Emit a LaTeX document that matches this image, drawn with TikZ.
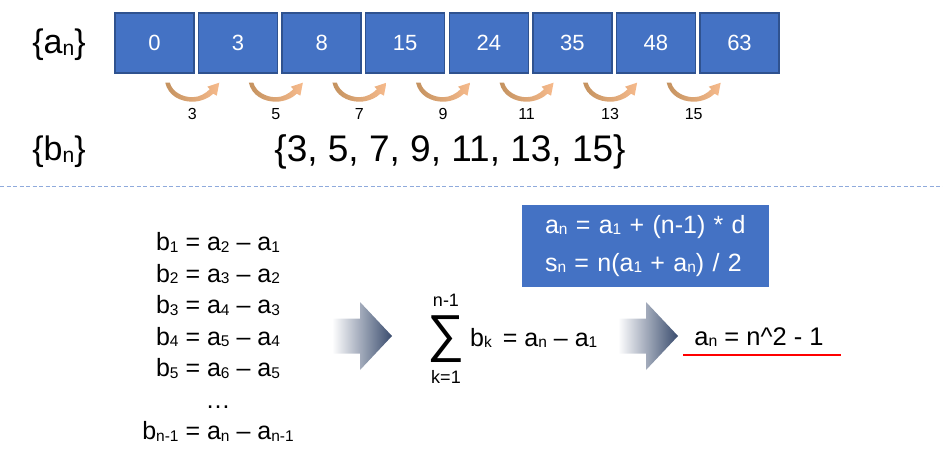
\documentclass[tikz,border=0pt]{standalone}
\usepackage{fontspec}
\setmainfont{Liberation Sans}
\usetikzlibrary{calc}
\definecolor{seqBlue}{HTML}{4472C4}
\definecolor{seqEdge}{HTML}{2F528F}
\definecolor{arcDark}{HTML}{C4925F}
\definecolor{arcLight}{HTML}{F6BA8C}
\definecolor{arrowNavy}{HTML}{3A4C6E}
\definecolor{sepBlue}{HTML}{8FAADC}
\definecolor{markRed}{HTML}{FF0000}
\newcommand{\low}[1]{\raisebox{-0.05em}{\scalebox{0.62}{#1}}}
\newcommand{\fs}[1]{\fontsize{#1}{#1}\selectfont}
\tikzset{
  seqBox/.style={
    draw=seqEdge,
    fill=seqBlue,
    line width=1.4pt,
    text=white,
    font=\fs{22},
    minimum width=79pt,
    minimum height=60pt,
    inner sep=0pt
  },
  seqLabel/.style={
    font=\fs{34},
    inner sep=0pt
  },
  gapLabel/.style={
    font=\fs{16},
    inner sep=0pt
  },
  setText/.style={
    font=\fs{37},
    inner sep=0pt
  },
  eqText/.style={
    font=\fontsize{25}{31.5}\selectfont,
    align=center,
    inner sep=0pt
  },
  formulaBox/.style={
    fill=seqBlue,
    text=white,
    font=\fontsize{25}{38}\selectfont,
    align=left,
    minimum width=247pt,
    minimum height=82pt,
    text width=201pt,
    inner sep=0pt
  },
  resultText/.style={
    font=\fs{25.5},
    inner sep=0pt
  },
  pics/diffArc/.style={
    code={
      \shade[left color=arcDark, right color=arcLight]
        (-27,0) .. controls (-24,13) and (-12,19) .. (0,19)
        .. controls (9,19) and (17,15) .. (21,11)
        -- (24.5,13) -- (27,0) -- (15,4) -- (17.5,6.5)
        .. controls (13,11) and (7,14.5) .. (0,14.5)
        .. controls (-10,14.5) and (-20,9) .. (-22.5,0) -- cycle;
    }
  },
  pics/fatArrow/.style={
    code={
      \shade[left color=white, right color=arrowNavy]
        (0,-17.5) -- (28,-17.5) -- (28,-34) -- (60,0)
        -- (28,34) -- (28,17.5) -- (0,17.5) -- cycle;
    }
  }
}

\begin{document}
\begin{tikzpicture}[x=1pt, y=-1pt]
  \useasboundingbox (0,0) rectangle (943,458);

  % sequence a_n
  \node[seqLabel] (aLabel) at (59,45) {\{a\low{n}\}};
  \foreach \v [count=\i] in {0,3,8,15,24,35,48,63} {
    \node[seqBox] (box\i) at ({154.5+83.57*(\i-1)},43) {\v};
  }

  % differences
  \foreach \i/\d in {1/3,2/5,3/7,4/9,5/11,6/13,7/15} {
    \pgfmathtruncatemacro{\j}{\i+1}
    \coordinate (gap\i) at ($(box\i.south east)!0.5!(box\j.south west)+(-4,9)$);
    \pic at (gap\i) {diffArc};
    \node[gapLabel] (diff\i) at ($(gap\i)+(0,31)$) {\d};
  }

  % sequence b_n
  \node[seqLabel] (bLabel) at (59,152) {\{b\low{n}\}};
  \node[setText] (bSet) at (450,152) {\{3, 5, 7, 9, 11, 13, 15\}};

  \draw[sepBlue, line width=0.9pt, dash pattern=on 4pt off 2.5pt] (0,186) -- (943,186);

  % telescoping
  \node[eqText] (eqs) at (218,337) {%
    b\low{1} = a\low{2} – a\low{1}\\
    b\low{2} = a\low{3} – a\low{2}\\
    b\low{3} = a\low{4} – a\low{3}\\
    b\low{4} = a\low{5} – a\low{4}\\
    b\low{5} = a\low{6} – a\low{5}\\
    …\\
    b\low{n-1} = a\low{n} – a\low{n-1}};

  \pic at (332,336) {fatArrow};

  \node[font=\fs{52}, inner sep=0pt] (sigma) at (446,339) {∑};
  \node[font=\fs{18}, inner sep=0pt] (sumTop) at (446,300) {n-1};
  \node[font=\fs{18}, inner sep=0pt] (sumBot) at (446,377) {k=1};
  \node[eqText, anchor=west] (sumRhs) at (470,338) {b\low{k}\, = a\low{n} – a\low{1}};

  \node[formulaBox] (formulas) at (645.5,246) {%
    a\low{n} = a\low{1} + (n-1) * d\\
    s\low{n} = n(a\low{1} + a\low{n}) / 2};

  \pic at (618,336) {fatArrow};

  \node[resultText] (result) at (759,337) {a\low{n} = n\^{}2 - 1};
  \coordinate (lineL) at (683,355);
  \coordinate (lineR) at (841,355);
  \draw[markRed, line width=2pt] (lineL) -- (lineR);
\end{tikzpicture}
\end{document}
